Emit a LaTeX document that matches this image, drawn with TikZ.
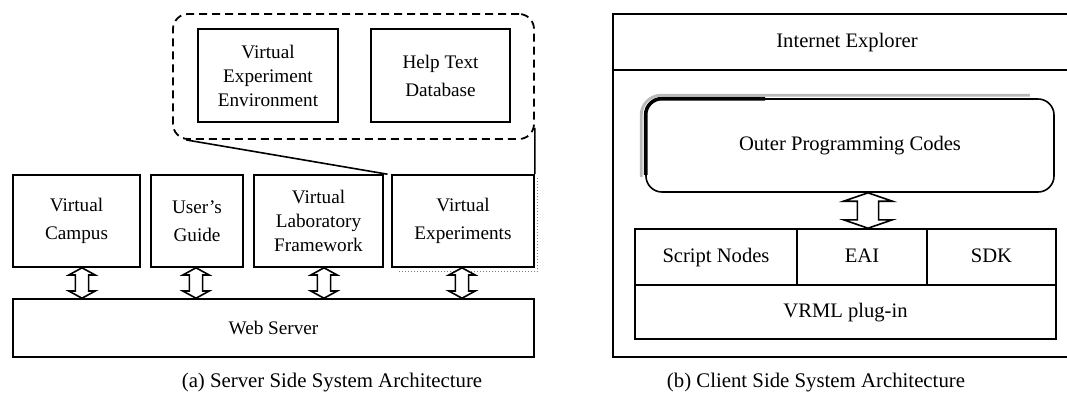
\documentclass[tikz,border=0pt]{standalone}
\usepackage{fontspec}
\setmainfont{Liberation Serif}
\usetikzlibrary{calc,fit}
\tikzset{
  sz/.style 2 args={minimum width=#1*0.5pt, minimum height=#2*0.5pt},
  box/.style={draw, line width=0.8pt, inner sep=0pt, align=center, anchor=center, font=\fontsize{9.6pt}{14pt}\selectfont},
  boxthree/.style={box, font=\fontsize{9.6pt}{12pt}\selectfont},
  rbox/.style={draw, line width=0.8pt, inner sep=0pt, anchor=center, text height=7pt, text depth=2pt, font=\fontsize{10.3pt}{12pt}\selectfont},
  grpbox/.style={draw, line width=0.9pt, dash pattern=on 4pt off 2.5pt, rounded corners=7.5pt, inner sep=0pt},
  link/.style={line width=0.8pt},
  harrow/.style={draw, line width=0.8pt, fill=white, line join=miter},
  captext/.style={font=\fontsize{10.4pt}{12pt}\selectfont, inner sep=0pt},
}
\newcommand\hollowdbl[5]{%
  \draw[harrow] let \p1=(#1), \p2=(#2) in
   (\x1,\y1) -- (\x1+#4,\y1-#5) -- (\x1+#3,\y1-#5) -- (\x1+#3,\y2+#5) --
   (\x1+#4,\y2+#5) -- (\x1,\y2) -- (\x1-#4,\y2+#5) -- (\x1-#3,\y2+#5) --
   (\x1-#3,\y1-#5) -- (\x1-#4,\y1-#5) -- cycle;}
\begin{document}
\begin{tikzpicture}[x=0.5pt, y=-0.5pt]
\useasboundingbox (0,0) rectangle (1067,393);
% ---------- (a) server side ----------
\node[grpbox, fit={(173,14) (534,139)}] (grp) {};
\node[boxthree, sz={140}{93}] (vee) at (268,75.5) {Virtual\\Experiment\\Environment};
\node[box, sz={139}{93}] (htd) at (440.5,75.5) {Help Text\\Database};
\node[box, sz={127}{92}] (vc) at (76.5,221) {Virtual\\Campus};
\node[box, sz={92}{92}] (ug) at (197,221) {User’s\\Guide};
\node[boxthree, sz={129}{92}] (vlf) at (318.5,221) {Virtual\\Laboratory\\Framework};
\node[box, sz={142}{92}] (ve) at (463,221) {Virtual\\Experiments};
\node[box, sz={521}{58}] (ws) at (273.5,328) {Web Server};
\draw[gray, line width=0.5pt, densely dotted] ($(ve.north east)+(3,4)$) -- ($(ve.south east)+(3,4)$) -- ($(ve.south west)+(8,4)$);
\coordinate (gap) at ($(vlf.north east)!0.5!(ve.north west)$);
\draw[link] ($(grp.south west)+(14,0)$) -- (gap);
\draw[link] ($(grp.south east)+(0,-12)$) -- (ve.north east);
\coordinate (a1t) at ($(vc.south)+(5.5,0)$);  \coordinate (a1b) at (a1t |- ws.north);
\coordinate (a2t) at ($(ug.south)+(-1,0)$);   \coordinate (a2b) at (a2t |- ws.north);
\coordinate (a3t) at ($(vlf.south)+(5.5,0)$); \coordinate (a3b) at (a3t |- ws.north);
\coordinate (a4t) at ($(ve.south)+(-1,0)$);   \coordinate (a4b) at (a4t |- ws.north);
\hollowdbl{a1t}{a1b}{3.3pt}{6.6pt}{3.6pt}
\hollowdbl{a2t}{a2b}{3.3pt}{6.6pt}{3.6pt}
\hollowdbl{a3t}{a3b}{3.3pt}{6.6pt}{3.6pt}
\hollowdbl{a4t}{a4b}{3.3pt}{6.6pt}{3.6pt}
\node[captext] (capa) at (332,383) {(a) Server Side System Architecture};
% ---------- (b) client side ----------
\node[rbox, sz={468}{56}] (ie) at (847,42) {Internet Explorer};
\node[draw, line width=0.8pt, inner sep=0pt, fit={(613,70) (1081,357)}] (brw) {};
\node[rbox, rounded corners=8pt, sz={408}{93}] (opc) at (850,145.5) {Outer Programming Codes};
\draw[gray!55, line width=1.4pt, rounded corners=10pt] ($(opc.south west)+(-4,-16)$) -- ($(opc.north west)+(-4,-3)$) -- ($(opc.north east)+(-25,-3)$);
\draw[line width=1.8pt, rounded corners=8pt] ($(opc.south west)+(0.5,-18)$) -- ($(opc.north west)+(0.5,0.5)$) -- ($(opc.north west)+(120,0.5)$);
\node[rbox, sz={162}{56}] (sn) at (716,257) {Script Nodes};
\node[rbox, sz={130}{56}] (eai) at (862,257) {EAI};
\node[rbox, sz={129}{56}] (sdk) at (991.5,257) {SDK};
\node[rbox, sz={421}{54}] (vrml) at (845.5,312) {VRML plug-in};
\coordinate (a5t) at ($(opc.south)+(18,0)$); \coordinate (a5b) at (a5t |- eai.north);
\hollowdbl{a5t}{a5b}{5.3pt}{12.2pt}{4.2pt}
\node[captext] (capb) at (816,383) {(b) Client Side System Architecture};
\end{tikzpicture}
\end{document}
